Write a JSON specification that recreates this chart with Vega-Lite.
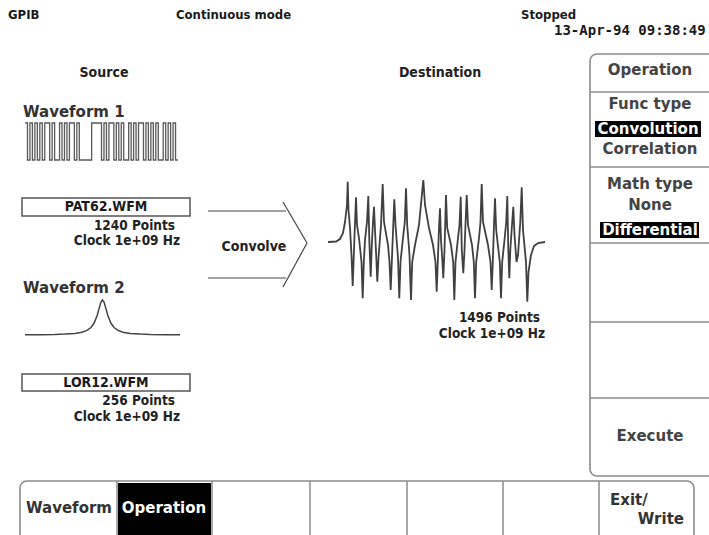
{
  "$schema": "https://vega.github.io/schema/vega-lite/v6.json",
  "width": 709,
  "height": 535,
  "padding": 0,
  "autosize": {"type": "none"},
  "background": "white",
  "config": {"view": {"stroke": null}},
  "encoding": {
    "x": {"field": "x", "type": "quantitative", "scale": {"domain": [0, 709], "nice": false, "zero": false}, "axis": null},
    "y": {"field": "y", "type": "quantitative", "scale": {"domain": [0, 535], "reverse": true, "nice": false, "zero": false}, "axis": null}
  },
  "datasets": {
    "frames": [
      {"name": "menu", "x": 590, "x2": 716, "y": 54, "y2": 476},
      {"name": "tabs", "x": 20, "x2": 694, "y": 481, "y2": 545}
    ],
    "highlights": [
      {"item": "Convolution", "x": 595, "x2": 701, "y": 121, "y2": 137},
      {"item": "Differential", "x": 600, "x2": 699, "y": 222, "y2": 238},
      {"item": "Operation tab", "x": 118, "x2": 211, "y": 483, "y2": 545}
    ],
    "fileBoxes": [
      {"file": "PAT62.WFM", "x": 22, "x2": 190, "y": 198, "y2": 216},
      {"file": "LOR12.WFM", "x": 22, "x2": 190, "y": 374, "y2": 391}
    ],
    "dividers": [
      {"x": 590, "x2": 716, "y": 92, "y2": 92},
      {"x": 590, "x2": 716, "y": 167, "y2": 167},
      {"x": 590, "x2": 716, "y": 243, "y2": 243},
      {"x": 590, "x2": 716, "y": 322, "y2": 322},
      {"x": 590, "x2": 716, "y": 398, "y2": 398},
      {"x": 117, "x2": 117, "y": 481, "y2": 540},
      {"x": 212, "x2": 212, "y": 481, "y2": 540},
      {"x": 310, "x2": 310, "y": 481, "y2": 540},
      {"x": 407, "x2": 407, "y": 481, "y2": 540},
      {"x": 503, "x2": 503, "y": 481, "y2": 540},
      {"x": 599, "x2": 599, "y": 481, "y2": 540}
    ],
    "arrow": [
      {"x": 208, "x2": 286, "y": 211, "y2": 211},
      {"x": 208, "x2": 286, "y": 278, "y2": 278},
      {"x": 283, "x2": 307, "y": 202, "y2": 243},
      {"x": 307, "x2": 283, "y": 243, "y2": 287}
    ],
    "waveform1": [
      {"x": 25.0, "y": 123}, {"x": 27.47, "y": 160}, {"x": 29.94, "y": 123}, {"x": 32.4, "y": 160},
      {"x": 34.87, "y": 123}, {"x": 37.34, "y": 160}, {"x": 39.81, "y": 123}, {"x": 42.28, "y": 160},
      {"x": 44.74, "y": 123}, {"x": 49.68, "y": 160}, {"x": 52.15, "y": 123}, {"x": 54.62, "y": 160},
      {"x": 59.55, "y": 123}, {"x": 62.02, "y": 160}, {"x": 64.49, "y": 123}, {"x": 66.96, "y": 160},
      {"x": 69.42, "y": 123}, {"x": 74.36, "y": 160}, {"x": 76.83, "y": 123}, {"x": 79.3, "y": 160},
      {"x": 91.64, "y": 123}, {"x": 101.51, "y": 160}, {"x": 103.98, "y": 123}, {"x": 106.44, "y": 160},
      {"x": 108.91, "y": 123}, {"x": 113.85, "y": 160}, {"x": 116.32, "y": 123}, {"x": 118.78, "y": 160},
      {"x": 121.25, "y": 123}, {"x": 123.72, "y": 160}, {"x": 128.66, "y": 123}, {"x": 131.12, "y": 160},
      {"x": 133.59, "y": 123}, {"x": 136.06, "y": 160}, {"x": 138.53, "y": 123}, {"x": 143.46, "y": 160},
      {"x": 145.93, "y": 123}, {"x": 148.4, "y": 160}, {"x": 150.87, "y": 123}, {"x": 153.34, "y": 160},
      {"x": 155.8, "y": 123}, {"x": 158.27, "y": 160}, {"x": 163.21, "y": 123}, {"x": 165.68, "y": 160},
      {"x": 168.14, "y": 123}, {"x": 170.61, "y": 160}, {"x": 173.08, "y": 123}, {"x": 175.55, "y": 160},
      {"x": 178.02, "y": 160}
    ],
    "waveform2": [
      {"x": 25, "y": 334.8}, {"x": 40, "y": 334.7}, {"x": 55, "y": 334.5}, {"x": 65, "y": 334.1},
      {"x": 75, "y": 333.4}, {"x": 82, "y": 332.2}, {"x": 87, "y": 330.4}, {"x": 91, "y": 327.5},
      {"x": 94, "y": 323.3}, {"x": 97, "y": 316}, {"x": 99, "y": 308.9}, {"x": 101, "y": 302.1},
      {"x": 102.5, "y": 300}, {"x": 104, "y": 302.1}, {"x": 106, "y": 308.9}, {"x": 108, "y": 316},
      {"x": 111, "y": 323.3}, {"x": 114, "y": 327.5}, {"x": 118, "y": 330.4}, {"x": 123, "y": 332.2},
      {"x": 130, "y": 333.4}, {"x": 140, "y": 334.1}, {"x": 150, "y": 334.5}, {"x": 165, "y": 334.7},
      {"x": 180, "y": 334.8}
    ],
    "destination": [
      {"x": 328, "y": 242}, {"x": 336, "y": 241.5}, {"x": 340, "y": 239}, {"x": 343, "y": 233},
      {"x": 345, "y": 222}, {"x": 347, "y": 205}, {"x": 347.7, "y": 181.7}, {"x": 348.5, "y": 210},
      {"x": 350, "y": 228}, {"x": 351.5, "y": 255}, {"x": 352.7, "y": 286}, {"x": 353.8, "y": 255},
      {"x": 354.8, "y": 228}, {"x": 356, "y": 197.3}, {"x": 357, "y": 225}, {"x": 359, "y": 238},
      {"x": 361.5, "y": 262}, {"x": 362.7, "y": 298.3}, {"x": 363.8, "y": 262}, {"x": 365, "y": 240},
      {"x": 367, "y": 222}, {"x": 368.3, "y": 196}, {"x": 369.3, "y": 240}, {"x": 370.7, "y": 276.7},
      {"x": 371.8, "y": 245}, {"x": 373, "y": 222}, {"x": 374, "y": 206.7}, {"x": 375, "y": 230},
      {"x": 376.3, "y": 258}, {"x": 377.3, "y": 281.7}, {"x": 378.5, "y": 258}, {"x": 381, "y": 225},
      {"x": 382.7, "y": 184}, {"x": 384, "y": 222}, {"x": 388, "y": 245}, {"x": 389.5, "y": 262},
      {"x": 390.7, "y": 290}, {"x": 391.8, "y": 262}, {"x": 393, "y": 232}, {"x": 394.3, "y": 199.3},
      {"x": 395.5, "y": 225}, {"x": 398, "y": 258}, {"x": 399.3, "y": 298.3}, {"x": 400.5, "y": 262},
      {"x": 403, "y": 238}, {"x": 404.8, "y": 222}, {"x": 406, "y": 188.3}, {"x": 407.2, "y": 225},
      {"x": 409.5, "y": 255}, {"x": 411, "y": 300}, {"x": 412.2, "y": 262}, {"x": 415, "y": 245},
      {"x": 419, "y": 225}, {"x": 423.3, "y": 180}, {"x": 425, "y": 205}, {"x": 429, "y": 228},
      {"x": 433, "y": 245}, {"x": 435.5, "y": 262}, {"x": 436.7, "y": 291.7}, {"x": 437.8, "y": 262},
      {"x": 439, "y": 228}, {"x": 440, "y": 208.3}, {"x": 441, "y": 240}, {"x": 442.2, "y": 258},
      {"x": 443.3, "y": 278.3}, {"x": 444.5, "y": 250}, {"x": 446, "y": 195}, {"x": 447.2, "y": 228},
      {"x": 451, "y": 245}, {"x": 453.2, "y": 262}, {"x": 454.3, "y": 300}, {"x": 455.5, "y": 262},
      {"x": 458, "y": 238}, {"x": 459.5, "y": 225}, {"x": 460.7, "y": 196.7}, {"x": 461.8, "y": 250},
      {"x": 463.3, "y": 273.3}, {"x": 464.5, "y": 250}, {"x": 465.6, "y": 222}, {"x": 466.7, "y": 195},
      {"x": 468, "y": 225}, {"x": 472, "y": 245}, {"x": 473.8, "y": 262}, {"x": 475, "y": 298.3},
      {"x": 476.2, "y": 262}, {"x": 479, "y": 238}, {"x": 480.5, "y": 222}, {"x": 481.7, "y": 184},
      {"x": 483, "y": 222}, {"x": 488, "y": 245}, {"x": 490.5, "y": 262}, {"x": 491.7, "y": 290},
      {"x": 492.8, "y": 262}, {"x": 494, "y": 225}, {"x": 495, "y": 198.3}, {"x": 496.2, "y": 230},
      {"x": 499.8, "y": 262}, {"x": 501, "y": 298.3}, {"x": 502.2, "y": 262}, {"x": 504.5, "y": 240},
      {"x": 506.2, "y": 222}, {"x": 507.3, "y": 196}, {"x": 508.3, "y": 250}, {"x": 509.3, "y": 278.3},
      {"x": 510.3, "y": 250}, {"x": 512, "y": 225}, {"x": 513.3, "y": 206.7}, {"x": 514.5, "y": 235},
      {"x": 516.5, "y": 262}, {"x": 518, "y": 255}, {"x": 520.3, "y": 222}, {"x": 521.7, "y": 187.3},
      {"x": 523, "y": 230}, {"x": 526, "y": 262}, {"x": 527.3, "y": 301.7}, {"x": 528.5, "y": 272},
      {"x": 531, "y": 255}, {"x": 534, "y": 246}, {"x": 538, "y": 243}, {"x": 545, "y": 242}
    ],
    "statusText": [
      {"label": "GPIB", "x": 8, "y": 15},
      {"label": "Continuous mode", "x": 176, "y": 15},
      {"label": "Stopped", "x": 521, "y": 15}
    ],
    "clockText": [
      {"label": "13-Apr-94 09:38:49", "x": 554, "y": 31}
    ],
    "sectionText": [
      {"label": "Source", "x": 104, "y": 73},
      {"label": "Destination", "x": 440, "y": 73},
      {"label": "Convolve", "x": 254, "y": 247}
    ],
    "waveLabels": [
      {"label": "Waveform 1", "x": 23, "y": 112},
      {"label": "Waveform 2", "x": 23, "y": 288}
    ],
    "fileNames": [
      {"label": "PAT62.WFM", "x": 106, "y": 207},
      {"label": "LOR12.WFM", "x": 106, "y": 383}
    ],
    "infoText": [
      {"label": "1240 Points", "x": 175, "y": 226},
      {"label": "Clock 1e+09 Hz", "x": 180, "y": 241},
      {"label": "256 Points", "x": 175, "y": 401},
      {"label": "Clock 1e+09 Hz", "x": 180, "y": 417},
      {"label": "1496 Points", "x": 540, "y": 318},
      {"label": "Clock 1e+09 Hz", "x": 545, "y": 334}
    ],
    "menuText": [
      {"label": "Operation", "x": 650, "y": 70},
      {"label": "Func type", "x": 650, "y": 104},
      {"label": "Correlation", "x": 650, "y": 149},
      {"label": "Math type", "x": 650, "y": 184},
      {"label": "None", "x": 650, "y": 205},
      {"label": "Execute", "x": 650, "y": 436}
    ],
    "menuSelected": [
      {"label": "Convolution", "x": 648, "y": 129},
      {"label": "Differential", "x": 650, "y": 230}
    ],
    "tabText": [
      {"label": "Waveform", "x": 69, "y": 508}
    ],
    "tabSelected": [
      {"label": "Operation", "x": 164, "y": 508}
    ],
    "exitText": [
      {"label": "Exit/", "x": 610, "y": 500}
    ],
    "writeText": [
      {"label": "Write", "x": 684, "y": 519}
    ]
  },
  "layer": [
    {
      "data": {"name": "highlights"},
      "mark": {"type": "rect", "color": "#000000"},
      "encoding": {"x2": {"field": "x2"}, "y2": {"field": "y2"}}
    },
    {
      "data": {"name": "frames"},
      "mark": {"type": "rect", "filled": false, "stroke": "#8c8c8c", "strokeWidth": 1.6, "cornerRadius": 7, "clip": true},
      "encoding": {"x2": {"field": "x2"}, "y2": {"field": "y2"}}
    },
    {
      "data": {"name": "fileBoxes"},
      "mark": {"type": "rect", "filled": false, "stroke": "#555555", "strokeWidth": 1.5},
      "encoding": {"x2": {"field": "x2"}, "y2": {"field": "y2"}}
    },
    {
      "data": {"name": "dividers"},
      "mark": {"type": "rule", "color": "#8c8c8c", "strokeWidth": 1.5, "clip": true},
      "encoding": {"x2": {"field": "x2"}, "y2": {"field": "y2"}}
    },
    {
      "data": {"name": "arrow"},
      "mark": {"type": "rule", "color": "#444444", "strokeWidth": 1.2},
      "encoding": {"x2": {"field": "x2"}, "y2": {"field": "y2"}}
    },
    {
      "data": {"name": "waveform1"},
      "mark": {"type": "line", "interpolate": "step-after", "color": "#5a5a5a", "strokeWidth": 1.3},
      "encoding": {}
    },
    {
      "data": {"name": "waveform2"},
      "mark": {"type": "line", "color": "#444444", "strokeWidth": 1.5},
      "encoding": {}
    },
    {
      "data": {"name": "destination"},
      "mark": {"type": "line", "color": "#404040", "strokeWidth": 1.8},
      "encoding": {}
    },
    {
      "data": {"name": "statusText"},
      "mark": {"type": "text", "align": "left", "baseline": "middle", "font": "DejaVu Sans Condensed, DejaVu Sans", "fontSize": 13, "fontWeight": "bold", "color": "#1a1a1a"},
      "encoding": {"text": {"field": "label"}}
    },
    {
      "data": {"name": "clockText"},
      "mark": {"type": "text", "align": "left", "baseline": "middle", "font": "DejaVu Sans Mono", "fontSize": 14, "fontWeight": "bold", "color": "#1a1a1a"},
      "encoding": {"text": {"field": "label"}}
    },
    {
      "data": {"name": "sectionText"},
      "mark": {"type": "text", "align": "center", "baseline": "middle", "font": "DejaVu Sans Condensed, DejaVu Sans", "fontSize": 14, "fontWeight": "bold", "color": "#222222"},
      "encoding": {"text": {"field": "label"}}
    },
    {
      "data": {"name": "waveLabels"},
      "mark": {"type": "text", "align": "left", "baseline": "middle", "font": "DejaVu Sans", "fontSize": 15, "fontWeight": "bold", "color": "#333333"},
      "encoding": {"text": {"field": "label"}}
    },
    {
      "data": {"name": "fileNames"},
      "mark": {"type": "text", "align": "center", "baseline": "middle", "font": "DejaVu Sans Condensed, DejaVu Sans", "fontSize": 14, "fontWeight": "bold", "color": "#1a1a1a"},
      "encoding": {"text": {"field": "label"}}
    },
    {
      "data": {"name": "infoText"},
      "mark": {"type": "text", "align": "right", "baseline": "middle", "font": "DejaVu Sans Condensed, DejaVu Sans", "fontSize": 13.5, "fontWeight": "bold", "color": "#222222"},
      "encoding": {"text": {"field": "label"}}
    },
    {
      "data": {"name": "menuText"},
      "mark": {"type": "text", "align": "center", "baseline": "middle", "font": "DejaVu Sans", "fontSize": 15, "fontWeight": "bold", "color": "#444444"},
      "encoding": {"text": {"field": "label"}}
    },
    {
      "data": {"name": "menuSelected"},
      "mark": {"type": "text", "align": "center", "baseline": "middle", "font": "DejaVu Sans", "fontSize": 15, "fontWeight": "bold", "color": "#ffffff"},
      "encoding": {"text": {"field": "label"}}
    },
    {
      "data": {"name": "tabText"},
      "mark": {"type": "text", "align": "center", "baseline": "middle", "font": "DejaVu Sans", "fontSize": 15, "fontWeight": "bold", "color": "#333333"},
      "encoding": {"text": {"field": "label"}}
    },
    {
      "data": {"name": "tabSelected"},
      "mark": {"type": "text", "align": "center", "baseline": "middle", "font": "DejaVu Sans", "fontSize": 15, "fontWeight": "bold", "color": "#ffffff"},
      "encoding": {"text": {"field": "label"}}
    },
    {
      "data": {"name": "exitText"},
      "mark": {"type": "text", "align": "left", "baseline": "middle", "font": "DejaVu Sans", "fontSize": 15, "fontWeight": "bold", "color": "#333333"},
      "encoding": {"text": {"field": "label"}}
    },
    {
      "data": {"name": "writeText"},
      "mark": {"type": "text", "align": "right", "baseline": "middle", "font": "DejaVu Sans", "fontSize": 15, "fontWeight": "bold", "color": "#333333"},
      "encoding": {"text": {"field": "label"}}
    }
  ]
}
